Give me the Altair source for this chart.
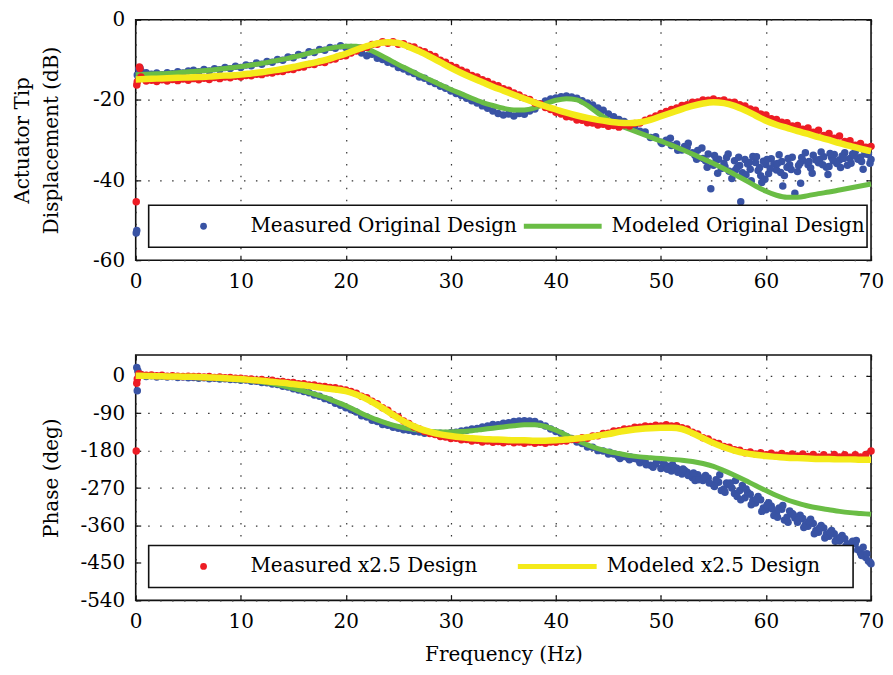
import altair as alt
import pandas as pd

FONT = "DejaVu Serif"
BLUE = "#3953a4"
GREEN = "#6abd45"
RED = "#ed1c24"
YELLOW = "#f4ea1a"

X_TICKS = [0, 10, 20, 30, 40, 50, 60, 70]
TOP_Y_TICKS = [0, -20, -40, -60]
BOT_Y_TICKS = [0, -90, -180, -270, -360, -450, -540]

TOP_LEGEND = ["Measured Original Design", "Modeled Original Design"]
BOT_LEGEND = ["Measured x2.5 Design", "Modeled x2.5 Design"]

# ---- modeled curves, 1 Hz steps 0..70 ----
F_MODEL = list(range(0, 71))
TOP_GREEN = [-13.7, -13.6, -13.5, -13.4, -13.2, -13.0, -12.8, -12.6, -12.3, -12.0,
             -11.7, -11.3, -10.9, -10.4, -9.9, -9.3, -8.7, -8.0, -7.4, -6.9,
             -6.6, -6.6, -7.3, -8.4, -9.8, -11.2, -12.5, -13.8, -15.0, -16.2,
             -17.4, -18.5, -19.6, -20.6, -21.4, -22.1, -22.5, -22.5, -22.0, -21.0,
             -20.1, -19.7, -20.0, -21.4, -23.3, -25.0, -26.3, -27.3, -28.3, -29.3,
             -30.3, -31.3, -32.4, -33.5, -34.7, -35.9, -37.2, -38.6, -40.0, -41.5,
             -42.8, -43.8, -44.3, -44.3, -43.9, -43.4, -43.0, -42.5, -42.0, -41.5,
             -41.0]
TOP_YELLOW = [-14.9, -14.8, -14.7, -14.6, -14.5, -14.4, -14.3, -14.2, -14.0, -13.9,
              -13.7, -13.4, -13.1, -12.7, -12.3, -11.8, -11.2, -10.7, -10.1, -9.3,
              -8.5, -7.5, -6.6, -5.9, -5.6, -5.8, -6.8, -7.9, -9.2, -10.6,
              -12.0, -13.3, -14.5, -15.6, -16.7, -17.7, -18.7, -19.7, -20.7, -21.6,
              -22.4, -23.2, -23.9, -24.5, -25.0, -25.4, -25.7, -25.8, -25.6, -25.0,
              -24.1, -23.2, -22.3, -21.5, -20.9, -20.6, -20.8, -21.5, -22.6, -23.9,
              -25.2, -26.2, -27.0, -27.8, -28.5, -29.3, -30.0, -30.8, -31.5, -32.2,
              -32.8]
BOT_GREEN = [0, -1, -1.5, -2, -3, -4, -5, -6, -7, -8.5,
             -10, -12, -15, -19, -24, -30, -37, -44, -52, -62,
             -72, -84, -96, -106, -115, -122, -127, -131, -134, -135,
             -135, -134, -132, -129, -126, -123, -120, -118, -118, -122,
             -131, -143, -155, -166, -175, -182, -187, -192, -195, -197,
             -199, -201, -203, -206, -211, -218, -228, -239, -251, -264,
             -276, -288, -298, -306, -313, -318, -322, -326, -329, -331,
             -333]
BOT_YELLOW = [0, -0.5, -1, -1.5, -2, -2.5, -3, -4, -5, -6.5,
              -8, -10, -12, -14.5, -17, -20, -23, -26.5, -30, -33,
              -37, -45, -56, -70, -86, -102, -116, -127, -135, -141,
              -145, -148, -150, -152, -153, -154, -155, -155, -156, -156,
              -155, -153, -151, -148, -144, -140, -135, -131, -128, -126,
              -125, -125, -128, -138, -150, -162, -172, -180, -186, -190,
              -193, -195, -197, -198, -199, -200, -200, -201, -201, -202,
              -202]

# ---- measured data, 0.5 Hz steps 0.5..70 ----
F_MEAS = [k / 2 for k in range(1, 141)]
TOP_BLUE = [-12.8, -13.2, -13.6, -13.3, -13.7, -13.2, -13.5, -13.0, -13.3, -12.8,
            -12.6, -13.0, -12.4, -12.8, -12.2, -12.5, -11.9, -12.2, -11.6, -11.9,
            -11.3, -11.5, -10.8, -11.1, -10.4, -10.6, -9.9, -10.1, -9.3, -9.5,
            -8.7, -8.9, -8.0, -8.2, -7.4, -7.6, -6.9, -7.1, -6.5, -6.9,
            -6.9, -7.4, -8.3, -9.0, -8.6, -9.6, -9.9, -10.6, -11.0, -11.9,
            -12.3, -13.0, -13.4, -14.3, -14.6, -15.4, -15.9, -16.6, -17.1, -17.8,
            -18.4, -18.9, -19.6, -20.2, -20.8, -21.5, -22.1, -22.8, -23.4, -23.8,
            -23.5, -24.0, -23.4, -23.6, -22.8, -22.3, -21.0, -20.3, -19.8, -19.5,
            -19.2, -19.0, -19.3, -19.6, -20.2, -20.8, -21.3, -22.0, -22.6, -23.5,
            -24.2, -24.9, -25.4, -26.3, -26.6, -27.8, -28.0, -29.4, -29.2, -30.6,
            -30.1, -31.4, -31.0, -32.5, -31.8, -33.2, -32.6, -34.6, -33.5, -36.3,
            -34.8, -35.9, -37.8, -35.2, -36.4, -34.9, -37.3, -35.6, -38.9, -36.1,
            -34.7, -37.5, -35.4, -36.8, -34.3, -37.9, -35.1, -36.2, -33.8, -35.7,
            -34.2, -36.6, -33.6, -35.0, -33.2, -34.6, -32.9, -34.3, -33.5, -34.9]
TOP_RED = [-14.3, -15.3, -15.1, -15.4, -15.0, -15.3, -14.9, -15.2, -14.8, -15.1,
           -14.7, -15.0, -14.6, -14.9, -14.4, -14.7, -14.3, -14.5, -14.1, -14.3,
           -13.9, -14.0, -13.6, -13.7, -13.3, -13.3, -12.9, -12.9, -12.4, -12.4,
           -11.9, -11.8, -11.2, -11.2, -10.6, -10.7, -10.0, -9.8, -9.1, -9.0,
           -8.3, -7.8, -7.1, -6.9, -6.2, -6.1, -5.5, -5.9, -5.5, -6.1,
           -6.0, -6.6, -6.8, -7.6, -8.0, -8.7, -9.2, -10.1, -10.6, -11.4,
           -11.9, -12.6, -13.1, -13.9, -14.3, -15.0, -15.4, -16.1, -16.5, -17.2,
           -17.6, -18.3, -18.8, -19.5, -19.9, -20.8, -21.0, -21.9, -22.4, -23.1,
           -23.5, -24.2, -24.3, -25.0, -25.1, -25.7, -25.8, -26.3, -26.1, -26.6,
           -26.4, -26.8, -26.3, -26.5, -25.9, -25.8, -25.1, -24.6, -24.0, -23.4,
           -22.9, -22.4, -22.0, -21.4, -21.2, -20.6, -20.5, -20.0, -20.1, -19.8,
           -20.2, -20.0, -20.6, -20.6, -21.2, -21.5, -22.3, -22.6, -23.5, -23.8,
           -24.7, -24.9, -25.6, -25.7, -26.5, -26.4, -27.3, -27.0, -28.1, -27.6,
           -28.9, -28.4, -29.6, -29.0, -30.4, -30.2, -31.3, -30.9, -31.8, -31.6]
BOT_BLUE = [3, -2, 0, -3, -1, -3, -2, -4, -3, -5,
            -4, -6, -5, -7, -6, -8, -7, -9, -9, -11,
            -10, -13, -13, -16, -17, -20, -21, -25, -27, -31,
            -34, -38, -41, -46, -49, -55, -59, -66, -71, -77,
            -82, -87, -96, -99, -107, -110, -117, -119, -124, -126,
            -130, -131, -134, -135, -138, -137, -139, -138, -139, -137,
            -136, -133, -131, -128, -127, -123, -121, -117, -118, -114,
            -113, -110, -109, -108, -109, -110, -116, -121, -128, -134,
            -139, -146, -151, -159, -163, -171, -172, -180, -181, -188,
            -188, -195, -194, -202, -199, -209, -206, -215, -212, -223,
            -216, -229, -222, -236, -232, -245, -238, -252, -246, -262,
            -256, -272, -262, -283, -276, -293, -285, -306, -298, -322,
            -313, -330, -321, -340, -331, -352, -343, -362, -355, -376,
            -366, -386, -380, -397, -392, -411, -404, -426, -437, -452]
BOT_RED = [3, 1, 2, 0, 1, -1, 0, -1, -2, -1,
           -2, -2, -3, -2, -4, -3, -5, -4, -6, -6,
           -8, -8, -10, -9, -12, -11, -14, -14, -16, -16,
           -19, -19, -22, -22, -25, -26, -28, -29, -32, -34,
           -38, -42, -49, -53, -61, -67, -77, -83, -93, -99,
           -109, -115, -123, -128, -134, -139, -141, -146, -147, -151,
           -150, -154, -153, -157, -155, -159, -157, -160, -158, -161,
           -158, -161, -159, -162, -159, -162, -160, -162, -159, -160,
           -157, -157, -153, -153, -149, -150, -145, -144, -139, -138,
           -133, -132, -128, -128, -124, -124, -121, -122, -119, -121,
           -118, -121, -120, -125, -128, -136, -140, -149, -152, -160,
           -163, -170, -172, -178, -179, -185, -183, -188, -185, -190,
           -186, -191, -187, -192, -188, -193, -188, -194, -189, -195,
           -190, -196, -189, -195, -190, -196, -190, -195, -189, -181]

# extra scattered measured points in the noisy high-frequency range
TOP_BLUE_XF = [52.25, 53.25, 54.25, 54.75, 55.25, 55.75, 56.25, 56.75, 57.25, 57.6,
               57.75, 58.25, 58.6, 58.75, 59.25, 59.75, 59.9, 60.25, 60.75, 61.25,
               61.6, 61.75, 62.25, 62.75, 63.25, 63.3, 63.75, 64.25, 64.75, 65.25,
               65.75, 66.25, 66.75, 67.25, 67.75, 68.25, 68.75, 69.25, 69.75,
               50.1, 50.9, 51.6, 52.6, 53.4, 53.9, 54.4, 55.1, 55.4, 56.1,
               56.4, 57.1, 57.4, 58.1, 58.4, 59.1, 59.4, 60.1, 60.4, 61.1,
               61.4, 62.1, 62.4, 63.1, 63.4, 64.1, 64.4, 65.1, 65.4, 66.1,
               66.4, 67.1, 67.4, 68.1, 68.4, 69.1, 69.4, 69.9, 65.9, 59.6]
TOP_BLUE_XV = [-31.6, -33.9, -35.2, -42.2, -35.0, -37.1, -34.4, -39.6, -36.9, -45.4,
               -38.2, -36.0, -40.2, -34.1, -37.6, -35.3, -39.8, -38.4, -36.0, -33.7,
               -41.5, -38.9, -36.2, -43.3, -35.8, -40.8, -33.2, -37.0, -35.0, -33.0,
               -36.8, -34.4, -35.9, -34.0, -36.3, -33.5, -34.8, -37.3, -33.6,
               -30.9, -29.6, -32.6, -30.8, -34.8, -32.0, -36.8, -33.9, -38.3, -36.7,
               -33.5, -37.5, -34.3, -38.7, -35.6, -34.2, -36.9, -34.9, -37.2, -35.9,
               -38.1, -34.6, -37.4, -36.4, -34.4, -35.4, -38.3, -34.9, -36.2, -33.4,
               -35.2, -36.9, -34.6, -35.8, -33.8, -35.4, -33.0, -35.8, -38.6, -40.6]
BOT_BLUE_XF = [48.25, 49.25, 50.25, 51.25, 52.25, 53.25, 54.25, 55.25, 55.6, 55.75,
               56.25, 56.75, 57.1, 57.25, 57.75, 58.25, 58.75, 59.25, 59.75, 60.25,
               60.75, 61.25, 61.75, 62.25, 62.75, 63.25, 63.75, 64.25, 64.75, 65.25,
               65.75, 66.25, 66.75, 67.25, 67.75, 68.25, 68.75, 69.25, 69.75,
               45.1, 45.9, 46.1, 46.9, 47.1, 47.9, 48.6, 49.6, 50.6, 51.1,
               51.6, 52.1, 52.6, 53.1, 53.6, 54.1, 54.6, 55.1, 56.1, 56.6,
               57.6, 58.1, 58.6, 59.1, 59.6, 60.1, 60.6, 61.1, 61.6, 62.1,
               62.6, 63.1, 63.6, 64.1, 64.6, 65.1, 65.6, 66.1, 66.6, 67.1,
               67.6, 68.1, 68.6, 69.1, 69.6, 69.9]
BOT_BLUE_XV = [-203, -220, -210, -220, -228, -252, -240, -250, -238, -276,
               -258, -270, -252, -290, -264, -280, -300, -290, -318, -305,
               -336, -318, -347, -325, -342, -335, -358, -345, -372, -360,
               -381, -372, -392, -384, -404, -398, -418, -412, -445,
               -184, -192, -199, -198, -195, -204, -214, -206, -225, -214,
               -232, -224, -240, -234, -250, -244, -258, -266, -280, -258,
               -298, -272, -310, -296, -326, -310, -320, -340, -312, -352,
               -334, -346, -365, -350, -380, -366, -390, -376, -398, -388,
               -410, -420, -396, -432, -428, -448]

# low-frequency (near 0 Hz) measured points
TOP_BLUE_LF = ([0.05, 0.1, 0.15, 0.3, 0.4], [-53.2, -52.6, -13.8, -12.3, -12.0])
TOP_RED_LF = ([0.05, 0.1, 0.15, 0.35, 0.4], [-45.4, -16.3, -15.5, -11.8, -12.2])
BOT_BLUE_LF = ([0.1, 0.15, 0.2, 0.3], [20, -36, 12, 5])
BOT_RED_LF = ([0.05, 0.1, 0.15, 0.3], [-181, -18, -8, 5])

DOT = 56
LEG_DOT = 46
W = 737


def df(f, v):
    return pd.DataFrame({"f": list(f), "v": list(v)})


def main_axes(ytitle, yticks, xtitle, ht, title_x):
    xkw = dict(orient="bottom", values=X_TICKS, grid=True, gridDash=[1.5, 10.5],
               gridColor="#333", gridWidth=1.2, domain=False, ticks=True, tickSize=5,
               tickColor="#111", tickWidth=1.2, offset=-5, labelPadding=11,
               labelFont=FONT, labelFontSize=20, labelColor="black",
               labelExpr="toString(datum.value)", labelFlush=False)
    if xtitle:
        xkw.update(title=xtitle, titleFont=FONT, titleFontSize=20,
                   titleFontWeight="normal", titleColor="black", titlePadding=13)
    else:
        xkw["title"] = None
    yax = alt.Axis(orient="left", values=yticks, grid=True, gridDash=[1.5, 10.5],
                   gridColor="#333", gridWidth=1.2, domain=False, ticks=True, tickSize=5,
                   tickColor="#111", tickWidth=1.2, offset=-5, labelPadding=11,
                   labelFont=FONT, labelFontSize=20, labelColor="black",
                   labelExpr="toString(datum.value)", labelFlush=False,
                   title=ytitle, titleFont=FONT, titleFontSize=20,
                   titleFontWeight="normal", titleColor="black", titleAngle=270,
                   titleBaseline="bottom", titleAlign="center", titleX=title_x,
                   titleY=ht / 2, titleLineHeight=29)
    return alt.Axis(**xkw), yax


def tick_axes(yticks):
    xax = alt.Axis(orient="top", values=X_TICKS, grid=False, domain=False, labels=False,
                   ticks=True, tickSize=5, tickColor="#111", tickWidth=1.2, offset=-5,
                   title=None)
    yax = alt.Axis(orient="right", values=yticks, grid=False, domain=False, labels=False,
                   ticks=True, tickSize=5, tickColor="#111", tickWidth=1.2, offset=-5,
                   title=None)
    return xax, yax


def panel(meas1, model1, meas2, model2, ydom, yticks, ytitle, title_x, xtitle,
          labels, dot_color, line_color, line_x, text2_x, box_x2, ht):
    xs = alt.Scale(domain=[0, 70], nice=False, zero=False)
    ys = alt.Scale(domain=ydom, nice=False, zero=False)
    mx, my = main_axes(ytitle, yticks, xtitle, ht, title_x)
    tx, ty = tick_axes(yticks)

    l1 = alt.Chart(meas1).mark_circle(size=DOT, color=BLUE, opacity=1).encode(
        x=alt.X("f:Q", scale=xs, axis=mx), y=alt.Y("v:Q", scale=ys, axis=my))
    l2 = alt.Chart(model1).mark_line(color=GREEN, strokeWidth=5, interpolate="monotone").encode(
        x=alt.X("f:Q", scale=xs, axis=tx), y=alt.Y("v:Q", scale=ys, axis=ty))
    l3 = alt.Chart(meas2).mark_circle(size=DOT, color=RED, opacity=1).encode(
        x=alt.X("f:Q", scale=xs, axis=None), y=alt.Y("v:Q", scale=ys, axis=None))
    l4 = alt.Chart(model2).mark_line(color=YELLOW, strokeWidth=6.5, interpolate="monotone").encode(
        x=alt.X("f:Q", scale=xs, axis=None), y=alt.Y("v:Q", scale=ys, axis=None))

    one = pd.DataFrame({"k": [0]})
    mid = ht - 34
    box = alt.Chart(one).mark_rect(fill="white", stroke="#111", strokeWidth=1.6).encode(
        x=alt.value(13), x2=alt.value(box_x2), y=alt.value(ht - 55), y2=alt.value(ht - 13))
    sym1 = alt.Chart(one).mark_circle(size=LEG_DOT, color=dot_color, opacity=1).encode(
        x=alt.value(68), y=alt.value(mid))
    sym2 = alt.Chart(one).mark_rule(color=line_color, strokeWidth=5).encode(
        x=alt.value(line_x[0]), x2=alt.value(line_x[1]), y=alt.value(mid))
    t1 = alt.Chart(pd.DataFrame({"label": [labels[0]]})).mark_text(
        align="left", baseline="middle", font=FONT, fontSize=20, color="black").encode(
        x=alt.value(115), y=alt.value(mid), text="label:N")
    t2 = alt.Chart(pd.DataFrame({"label": [labels[1]]})).mark_text(
        align="left", baseline="middle", font=FONT, fontSize=20, color="black").encode(
        x=alt.value(text2_x), y=alt.value(mid), text="label:N")

    return alt.layer(l1, l2, l3, l4, box, sym1, sym2, t1, t2).resolve_axis(
        x="independent", y="independent").properties(width=W, height=ht)


top_meas_blue = pd.concat([df(*TOP_BLUE_LF), df(F_MEAS, TOP_BLUE), df(TOP_BLUE_XF, TOP_BLUE_XV)])
top_meas_red = pd.concat([df(*TOP_RED_LF), df(F_MEAS, TOP_RED)])
bot_meas_blue = pd.concat([df(*BOT_BLUE_LF), df(F_MEAS, BOT_BLUE), df(BOT_BLUE_XF, BOT_BLUE_XV)])
bot_meas_red = pd.concat([df(*BOT_RED_LF), df(F_MEAS, BOT_RED)])

top = panel(top_meas_blue, df(F_MODEL, TOP_GREEN), top_meas_red, df(F_MODEL, TOP_YELLOW),
            [-60, 0], TOP_Y_TICKS, ["Actuator Tip", "Displacement (dB)"], -108, None,
            TOP_LEGEND, BLUE, GREEN, (389, 467), 477, 733, 241)

bottom = panel(bot_meas_blue, df(F_MODEL, BOT_GREEN), bot_meas_red, df(F_MODEL, BOT_YELLOW),
               [-540, 50], BOT_Y_TICKS, "Phase (deg)", -79, "Frequency (Hz)",
               BOT_LEGEND, RED, YELLOW, (383, 462), 472, 719, 246)

chart = alt.vconcat(top, bottom, spacing=95, bounds="flush").properties(
    padding={"left": 4, "top": 0, "right": 0, "bottom": 0},
    background="white",
).configure_view(stroke="#111", strokeWidth=1.6)

chart.save("out.html", embed_options={"renderer": "svg", "actions": False})
